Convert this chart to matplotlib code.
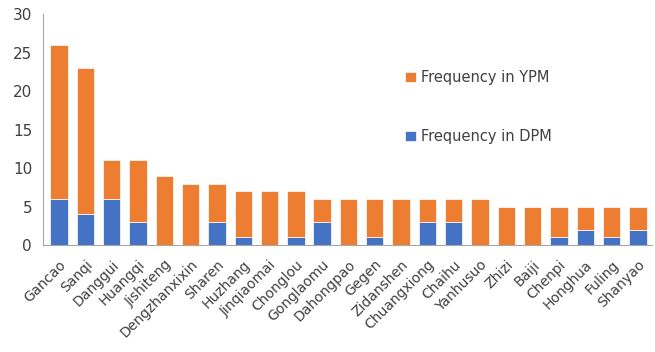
import numpy as np
import matplotlib.pyplot as plt
from matplotlib.transforms import ScaledTranslation

herbs = ["Gancao", "Sanqi", "Danggui", "Huangqi", "Jishiteng", "Dengzhanxixin",
         "Sharen", "Huzhang", "Jinqiaomai", "Chonglou", "Gonglaomu", "Dahongpao",
         "Gegen", "Zidanshen", "Chuangxiong", "Chaihu", "Yanhusuo", "Zhizi",
         "Baiji", "Chenpi", "Honghua", "Fuling", "Shanyao"]
dpm = [6, 4, 6, 3, 0, 0, 3, 1, 0, 1, 3, 0, 1, 0, 3, 3, 0, 0, 0, 1, 2, 1, 2]
ypm = [20, 19, 5, 8, 9, 8, 5, 6, 7, 6, 3, 6, 5, 6, 3, 3, 6, 5, 5, 4, 3, 4, 3]

fig = plt.figure(figsize=(6.55, 3.52), dpi=100)
ax = fig.add_axes([0.066, 0.304, 0.93, 0.655])

x = np.arange(len(herbs))
b1 = ax.bar(x, dpm, width=0.66, color="#4472C4", edgecolor="white", linewidth=0.5,
            label="Frequency in DPM")
b2 = ax.bar(x, ypm, width=0.66, bottom=dpm, color="#ED7D31", edgecolor="white",
            linewidth=0.5, label="Frequency in YPM")

ax.set_ylim(0, 30)
ax.set_xlim(-0.6, len(herbs) - 0.45)
ax.set_yticks(range(0, 31, 5))
ax.set_xticks(x)
ax.set_xticklabels(herbs, rotation=45, ha="right", rotation_mode="anchor",
                   fontsize=10, color="#404040")
# nudge rotated labels a little to the left, like the original
shift = ScaledTranslation(-4 / 100, 0, fig.dpi_scale_trans)
for lbl in ax.get_xticklabels():
    lbl.set_transform(lbl.get_transform() + shift)
ax.tick_params(axis="y", labelsize=11, labelcolor="#404040", length=0, pad=8)
ax.tick_params(axis="x", length=0, pad=9)
for s in ["top", "right"]:
    ax.spines[s].set_visible(False)
for s in ["left", "bottom"]:
    ax.spines[s].set_color("#a6a6a6")

ax.legend([b2, b1], ["Frequency in YPM", "Frequency in DPM"], frameon=False,
          loc="upper left", bbox_to_anchor=(0.573, 0.815), fontsize=10.5,
          handlelength=0.7, handleheight=0.7, handletextpad=0.4,
          labelspacing=3.0, labelcolor="#404040")

fig.savefig("out.png", dpi=100)
